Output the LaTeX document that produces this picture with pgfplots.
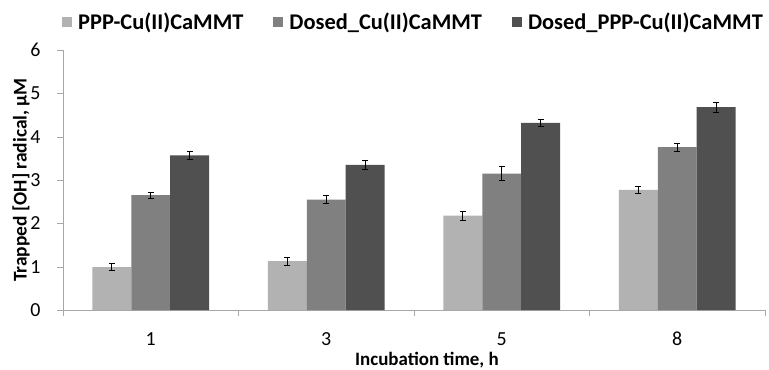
\documentclass[border=0pt]{standalone}
\usepackage{pgfplots}
\pgfplotsset{compat=1.18}
\usepackage{fontspec}
\setmainfont{Carlito}
\definecolor{cA}{HTML}{B2B2B2}
\definecolor{cB}{HTML}{808080}
\definecolor{cC}{HTML}{505050}
\definecolor{axc}{HTML}{A8A8A8}
\begin{document}
\begin{tikzpicture}
\begin{axis}[
  scale only axis,
  width=702bp, height=260bp,
  /pgf/number format/assume math mode=true,
  tick label style={font=\fontsize{20}{21}\selectfont},
  label style={font=\fontsize{19.5}{22}\selectfont\bfseries},
  ybar=0pt, bar width=0.222,
  xmin=0.5, xmax=4.5,
  ymin=0, ymax=6,
  ytick={0,1,2,3,4,5,6},
  xtick={1,2,3,4},
  xticklabels={1,3,5,8},
  major x tick style={draw=none},
  minor xtick={0.5,1.5,2.5,3.5,4.5},
  minor x tick style={axc},
  minor tick length=6bp,
  major tick length=6bp,
  tick align=outside,
  axis x line*=bottom, axis y line*=left,
  axis line style={axc, line width=0.8pt},
  ytick style={axc},
  xticklabel style={anchor=center, yshift=-23bp},
  yticklabel style={xshift=-13bp},
  ylabel={Trapped [OH] radical, μM},
  xlabel={\fontsize{19}{22}\selectfont Incubation time, h},
  xlabel style={at={(axis description cs:0.5185,-0.192)}, anchor=center},
  ylabel style={at={(axis description cs:-0.0598,0.5)}, anchor=center},
  legend columns=3,
  legend style={draw=none, at={(axis description cs:1.0,1.108)}, anchor=east, inner sep=0pt,
    font=\fontsize{22.5}{24}\selectfont\bfseries,
    /tikz/every even column/.append style={column sep=28bp}},
  legend image code/.code={\fill[#1] (0bp,-5bp) rectangle (10bp,5bp);},
  legend cell align=left,
  error bars/y dir=both, error bars/y explicit,
  error bars/error bar style={black, line width=0.6pt},
  error bars/error mark options={rotate=90, mark size=3bp, black, line width=0.6pt},
]
\addplot[fill=cA, draw=none] coordinates {(1,0.99) +- (0,0.08) (2,1.13) +- (0,0.09) (3,2.18) +- (0,0.10) (4,2.77) +- (0,0.08)};
\addplot[fill=cB, draw=none] coordinates {(1,2.65) +- (0,0.07) (2,2.55) +- (0,0.09) (3,3.15) +- (0,0.16) (4,3.76) +- (0,0.09)};
\addplot[fill=cC, draw=none] coordinates {(1,3.57) +- (0,0.09) (2,3.35) +- (0,0.10) (3,4.32) +- (0,0.08) (4,4.68) +- (0,0.11)};
\legend{\hspace{4bp}PPP-Cu(II)CaMMT, \hspace{4bp}Dosed\_Cu(II)CaMMT, \hspace{4bp}Dosed\_PPP-Cu(II)CaMMT}
\end{axis}
\pgfresetboundingbox
\path (current axis.south west) ++(-63bp,-59bp) coordinate (bbA);
\path (current axis.north east) ++(4bp,50bp) coordinate (bbB);
\pgfresetboundingbox
\path (bbA) rectangle (bbB);
\end{tikzpicture}
\end{document}
